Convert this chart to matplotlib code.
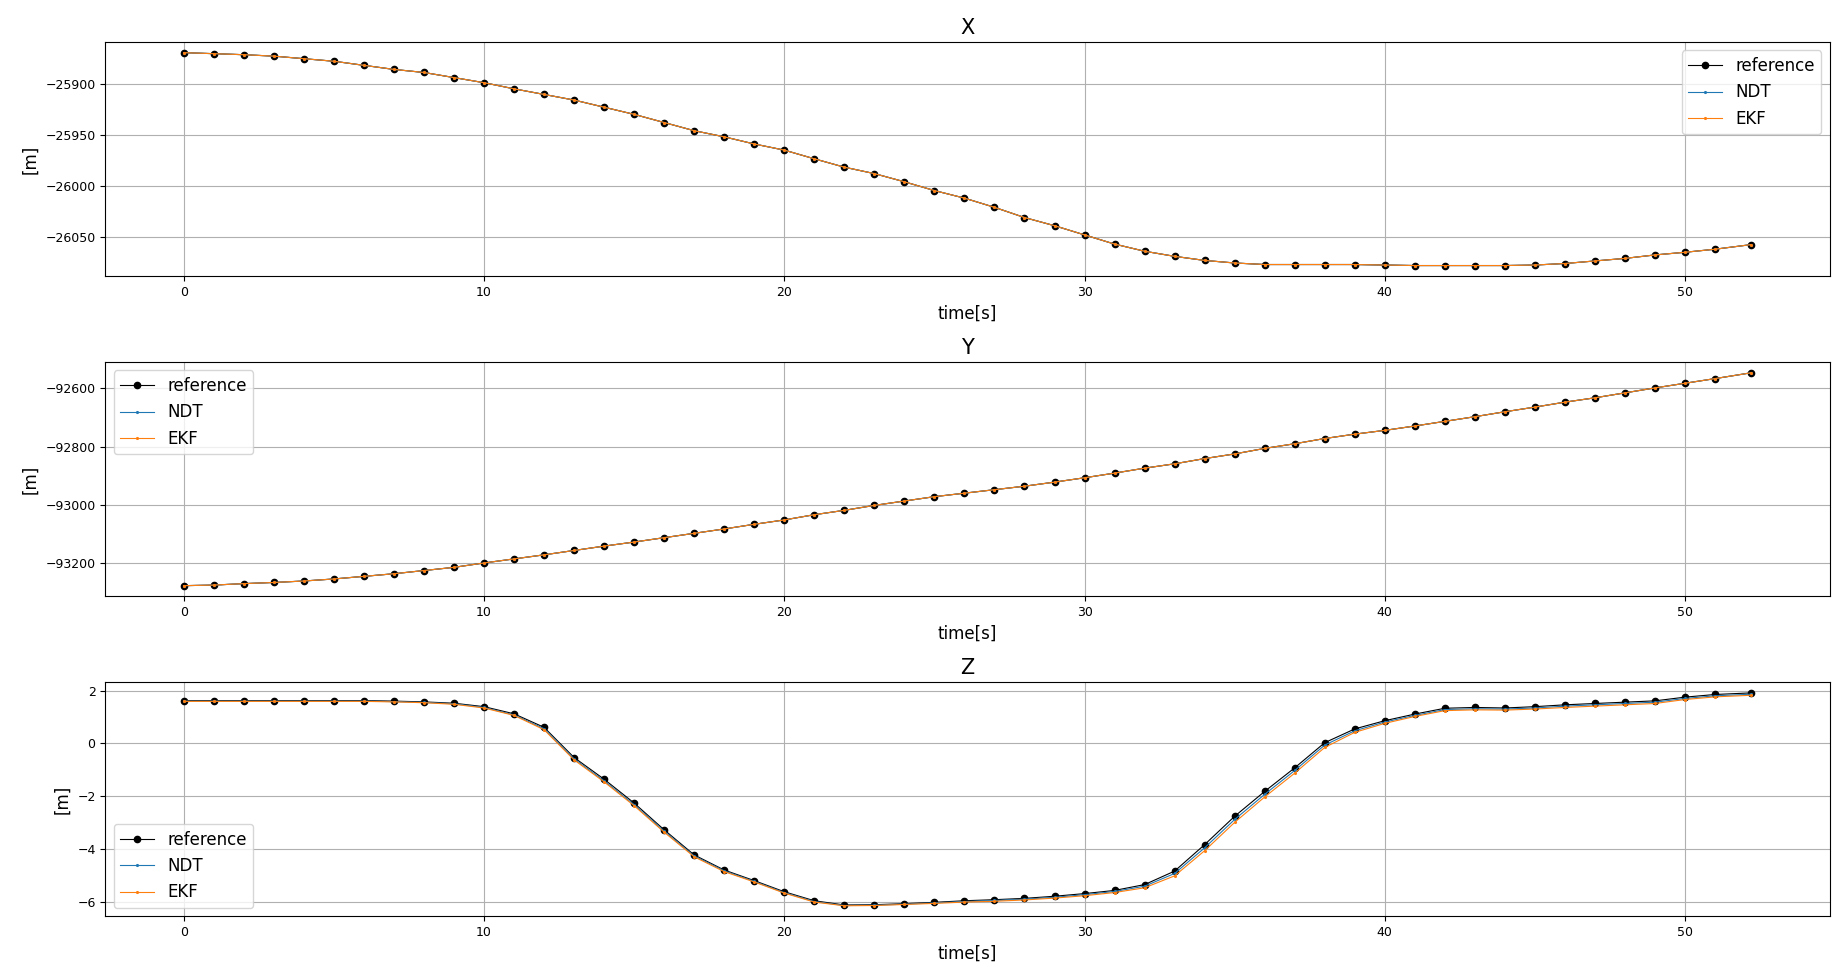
import matplotlib

matplotlib.use("Agg")
import matplotlib.pyplot as plt
from matplotlib.ticker import MultipleLocator

# time stamps [s] (values read once per second off the trace)
time_s = [0, 1, 2, 3, 4, 5, 6, 7, 8, 9, 10, 11, 12, 13, 14, 15, 16, 17, 18, 19,
          20, 21, 22, 23, 24, 25, 26, 27, 28, 29, 30, 31, 32, 33, 34, 35, 36, 37,
          38, 39, 40, 41, 42, 43, 44, 45, 46, 47, 48, 49, 50, 51, 52.2]

x_ref = [-25869.6, -25870.6, -25871.6, -25873.0, -25875.5, -25878.0, -25882.0,
         -25886.0, -25889.0, -25894.0, -25899.0, -25905.0, -25910.5, -25916.0,
         -25923.0, -25930.0, -25938.0, -25946.0, -25952.0, -25959.0, -25965.0,
         -25973.5, -25981.7, -25988.0, -25996.0, -26004.6, -26012.0, -26021.0,
         -26031.0, -26039.0, -26048.0, -26057.0, -26064.0, -26069.0, -26073.0,
         -26075.5, -26077.0, -26077.0, -26077.0, -26077.0, -26077.5, -26078.0,
         -26078.0, -26078.0, -26078.0, -26077.5, -26076.0, -26073.5, -26071.0,
         -26067.6, -26065.0, -26062.0, -26057.5]

y_ref = [-93278, -93276, -93271, -93267, -93262, -93255, -93246, -93237, -93226,
         -93215, -93200, -93186, -93172, -93157, -93142, -93128, -93113, -93098,
         -93083, -93067, -93052, -93034, -93019, -93002, -92987, -92972, -92960,
         -92948, -92936, -92922, -92907, -92891, -92874, -92859, -92841, -92825,
         -92806, -92790, -92772, -92757, -92744, -92729, -92713, -92697, -92680,
         -92664, -92647, -92632, -92615, -92598, -92582, -92566, -92546]

z_ref = [1.62, 1.62, 1.62, 1.62, 1.62, 1.62, 1.62, 1.60, 1.57, 1.52, 1.39, 1.12,
         0.61, -0.53, -1.35, -2.25, -3.26, -4.21, -4.78, -5.18, -5.60, -5.94,
         -6.10, -6.09, -6.05, -6.00, -5.94, -5.90, -5.85, -5.77, -5.67, -5.55,
         -5.33, -4.82, -3.82, -2.75, -1.81, -0.92, 0.03, 0.55, 0.86, 1.11, 1.33,
         1.36, 1.34, 1.39, 1.46, 1.51, 1.56, 1.61, 1.75, 1.85, 1.91]

z_ndt = [1.60, 1.60, 1.60, 1.60, 1.60, 1.60, 1.60, 1.58, 1.55, 1.50, 1.36, 1.08,
         0.56, -0.58, -1.41, -2.31, -3.31, -4.25, -4.81, -5.21, -5.63, -5.97,
         -6.12, -6.11, -6.07, -6.02, -5.97, -5.93, -5.88, -5.81, -5.71, -5.59,
         -5.39, -4.91, -3.94, -2.87, -1.92, -1.02, -0.06, 0.48, 0.81, 1.06, 1.28,
         1.31, 1.30, 1.34, 1.41, 1.46, 1.51, 1.56, 1.70, 1.80, 1.86]

z_ekf = [1.59, 1.59, 1.59, 1.59, 1.59, 1.59, 1.59, 1.57, 1.54, 1.48, 1.34, 1.06,
         0.52, -0.62, -1.45, -2.35, -3.35, -4.28, -4.84, -5.23, -5.65, -5.99,
         -6.13, -6.12, -6.08, -6.04, -5.99, -5.96, -5.91, -5.84, -5.75, -5.63,
         -5.45, -5.00, -4.05, -2.98, -2.02, -1.12, -0.15, 0.42, 0.76, 1.02, 1.24,
         1.27, 1.26, 1.30, 1.36, 1.41, 1.46, 1.51, 1.66, 1.76, 1.82]

# NDT / EKF sit exactly on the reference in X and Y at this scale
x_ndt, x_ekf = x_ref, x_ref
y_ndt, y_ekf = y_ref, y_ref

# title, series, legend corner, y tick step
panels = [
    ("X", x_ref, x_ndt, x_ekf, "upper right", 50),
    ("Y", y_ref, y_ndt, y_ekf, "upper left", 200),
    ("Z", z_ref, z_ndt, z_ekf, "lower left", 2),
]

fig, axes = plt.subplots(3, 1, figsize=(18.48, 9.77), dpi=100)
fig.subplots_adjust(left=0.057, right=0.990, top=0.957, bottom=0.062, hspace=0.367)

for ax, (title, ref, ndt, ekf, loc, ystep) in zip(axes, panels):
    ax.plot(time_s, ref, color="k", marker="o", markersize=4.5, linewidth=0.8,
            label="reference")
    ax.plot(time_s, ndt, color="tab:blue", marker=".", markersize=2.5,
            linewidth=0.8, label="NDT")
    ax.plot(time_s, ekf, color="tab:orange", marker=".", markersize=2.5,
            linewidth=0.8, label="EKF")
    ax.set_title(title, fontsize=15)
    ax.set_xlabel("time[s]", fontsize=12)
    ax.set_ylabel("[m]", fontsize=12)
    ax.yaxis.set_major_locator(MultipleLocator(ystep))
    ax.tick_params(labelsize=9)
    ax.grid(True)
    ax.legend(loc=loc, fontsize=12)

fig.savefig("out.png", dpi=100)
